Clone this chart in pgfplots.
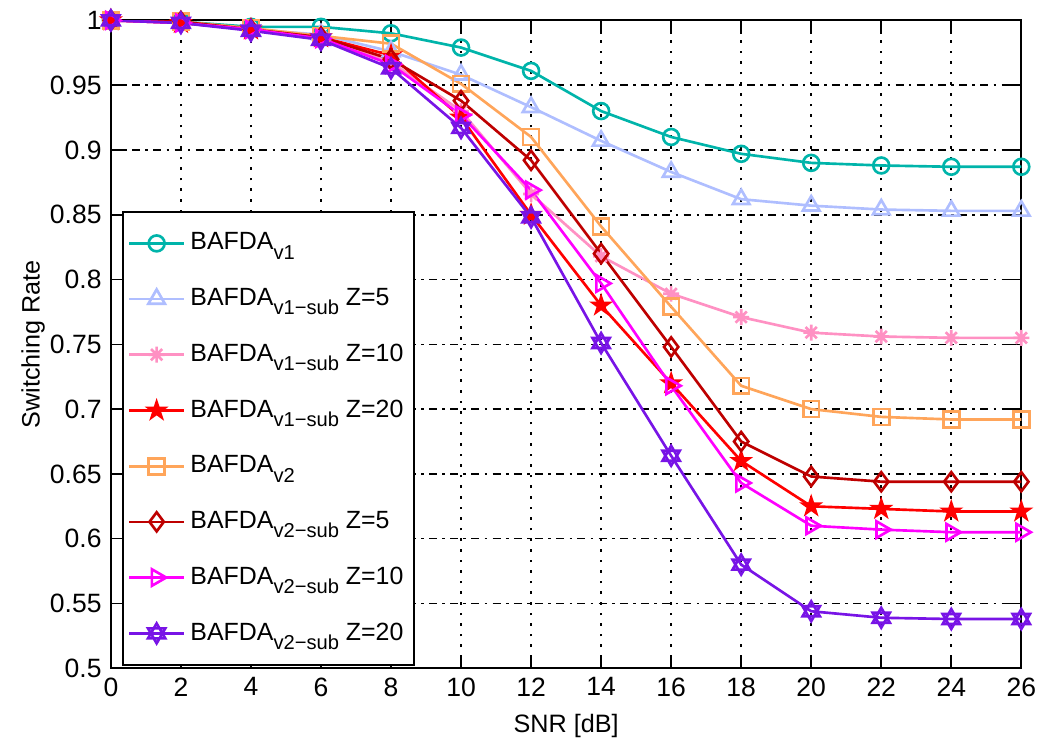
\documentclass[border=0pt]{standalone}
\usepackage{fontspec}
\setmainfont{Liberation Sans}
\usepackage{pgfplots}
\pgfplotsset{compat=1.18}

\definecolor{cteal}{RGB}{0,180,170}
\definecolor{clblue}{RGB}{175,190,255}
\definecolor{cpink}{RGB}{255,145,195}
\definecolor{cred}{RGB}{255,0,0}
\definecolor{corange}{RGB}{255,165,90}
\definecolor{cdred}{RGB}{190,0,0}
\definecolor{cmag}{RGB}{255,0,255}
\definecolor{cpurple}{RGB}{120,20,230}

\newcommand{\sub}[1]{\raisebox{-0.7ex}{\fontsize{7.6}{9}\selectfont #1}}

% filled five-point star (MATLAB pentagram)
\pgfdeclareplotmark{pentagram}{%
  \pgfpathmoveto{\pgfqpointpolar{90}{1.05\pgfplotmarksize}}%
  \pgfpathlineto{\pgfqpointpolar{234}{1.05\pgfplotmarksize}}%
  \pgfpathlineto{\pgfqpointpolar{18}{1.05\pgfplotmarksize}}%
  \pgfpathlineto{\pgfqpointpolar{162}{1.05\pgfplotmarksize}}%
  \pgfpathlineto{\pgfqpointpolar{306}{1.05\pgfplotmarksize}}%
  \pgfpathclose
  \pgfusepathqfillstroke}
% six-point star outline (MATLAB hexagram)
\pgfdeclareplotmark{hexagram}{%
  \pgfpathmoveto{\pgfqpointpolar{90}{1.25\pgfplotmarksize}}%
  \pgfpathlineto{\pgfqpointpolar{210}{1.25\pgfplotmarksize}}%
  \pgfpathlineto{\pgfqpointpolar{330}{1.25\pgfplotmarksize}}%
  \pgfpathclose
  \pgfpathmoveto{\pgfqpointpolar{270}{1.25\pgfplotmarksize}}%
  \pgfpathlineto{\pgfqpointpolar{30}{1.25\pgfplotmarksize}}%
  \pgfpathlineto{\pgfqpointpolar{150}{1.25\pgfplotmarksize}}%
  \pgfpathclose
  \pgfusepathqstroke}
% eight-ray asterisk (MATLAB *)
\pgfdeclareplotmark{ast8}{%
  \pgfpathmoveto{\pgfqpoint{-\pgfplotmarksize}{0pt}}\pgfpathlineto{\pgfqpoint{\pgfplotmarksize}{0pt}}%
  \pgfpathmoveto{\pgfqpoint{0pt}{-\pgfplotmarksize}}\pgfpathlineto{\pgfqpoint{0pt}{\pgfplotmarksize}}%
  \pgfpathmoveto{\pgfqpoint{-0.707\pgfplotmarksize}{-0.707\pgfplotmarksize}}\pgfpathlineto{\pgfqpoint{0.707\pgfplotmarksize}{0.707\pgfplotmarksize}}%
  \pgfpathmoveto{\pgfqpoint{-0.707\pgfplotmarksize}{0.707\pgfplotmarksize}}\pgfpathlineto{\pgfqpoint{0.707\pgfplotmarksize}{-0.707\pgfplotmarksize}}%
  \pgfusepathqstroke}

\pgfplotstableread{
snr  va     vas5   vas10  vas20  vb     vbs5   vbs10  vbs20
0    1.000  1.000  1.000  1.000  1.000  1.000  1.000  1.000
2    0.999  0.999  0.998  0.998  0.999  0.999  0.998  0.998
4    0.995  0.993  0.993  0.993  0.994  0.993  0.993  0.992
6    0.995  0.989  0.987  0.987  0.988  0.987  0.986  0.985
8    0.990  0.976  0.968  0.973  0.982  0.970  0.966  0.963
10   0.979  0.958  0.930  0.925  0.951  0.938  0.927  0.917
12   0.961  0.933  0.866  0.850  0.910  0.892  0.869  0.848
14   0.930  0.907  0.818  0.780  0.841  0.820  0.797  0.751
16   0.910  0.883  0.789  0.720  0.779  0.748  0.718  0.664
18   0.897  0.862  0.771  0.660  0.718  0.675  0.643  0.580
20   0.890  0.857  0.759  0.625  0.700  0.648  0.610  0.544
22   0.888  0.854  0.756  0.623  0.694  0.644  0.607  0.539
24   0.887  0.853  0.755  0.621  0.692  0.644  0.605  0.538
26   0.887  0.853  0.755  0.621  0.692  0.644  0.605  0.538
}\rates

\begin{document}
\begin{tikzpicture}
\begin{axis}[name=ax,
    width=12.07cm, height=8.59cm, scale only axis,
    xmin=0, xmax=26, ymin=0.5, ymax=1,
    xtick={0,2,4,6,8,10,12,14,16,18,20,22,24,26},
    ytick={0.5,0.55,0.6,0.65,0.7,0.75,0.8,0.85,0.9,0.95,1},
    tick align=inside, major tick length=5pt,
    tick style={black, line width=0.6pt},
    axis line style={line width=0.8pt},
    grid=major,
    x grid style={black, line width=0.6pt, dash pattern=on 1pt off 3pt},
    y grid style={black, line width=0.6pt, dash pattern=on 3pt off 2pt on 1pt off 2pt},
    xlabel={SNR [dB]}, ylabel={Switching Rate},
    label style={font=\fontsize{9.5}{11}\selectfont},
    ylabel style={yshift=-5pt},
    tick label style={font=\fontsize{10}{12}\selectfont},
    /pgf/number format/assume math mode=true,
    yticklabel style={/pgf/number format/fixed, /pgf/number format/precision=2},
    legend cell align=left,
    legend style={at={(0.012,0.003)}, anchor=south west, draw=black, line width=0.8pt,
        fill=white, font=\fontsize{9.4}{11}\selectfont, row sep=9pt,
        inner xsep=2pt, inner ysep=6pt,
        nodes={inner sep=2pt}},
    legend image code/.code={\draw[mark repeat=2,mark phase=2] plot coordinates {(0cm,0cm)(0.36cm,0cm)(0.72cm,0cm)};},
    every axis plot/.append style={line width=1pt, mark size=3pt},
]
\addplot[cteal, mark=o] table[x=snr, y=va] {\rates};
\addlegendentry{BAFDA\sub{v1}}
\addplot[clblue, mark=triangle, mark size=3.6pt] table[x=snr, y=vas5] {\rates};
\addlegendentry{BAFDA\sub{v1−sub} Z=5}
\addplot[cpink, mark=ast8] table[x=snr, y=vas10] {\rates};
\addlegendentry{BAFDA\sub{v1−sub} Z=10}
\addplot[cred, mark=pentagram] table[x=snr, y=vas20] {\rates};
\addlegendentry{BAFDA\sub{v1−sub} Z=20}
\addplot[corange, mark=square] table[x=snr, y=vb] {\rates};
\addlegendentry{BAFDA\sub{v2}}
\addplot[cdred, mark=diamond, mark size=3.6pt] table[x=snr, y=vbs5] {\rates};
\addlegendentry{BAFDA\sub{v2−sub} Z=5}
\addplot[cmag, mark=triangle, mark size=3.6pt, mark options={rotate=-90}] table[x=snr, y=vbs10] {\rates};
\addlegendentry{BAFDA\sub{v2−sub} Z=10}
\addplot[cpurple, mark=hexagram] table[x=snr, y=vbs20] {\rates};
\addlegendentry{BAFDA\sub{v2−sub} Z=20}
\end{axis}
\path (ax.north east) ++(0.46cm,0.27cm);
\path (ax.south west) ++(-1.47cm,0cm);
\end{tikzpicture}
\end{document}
